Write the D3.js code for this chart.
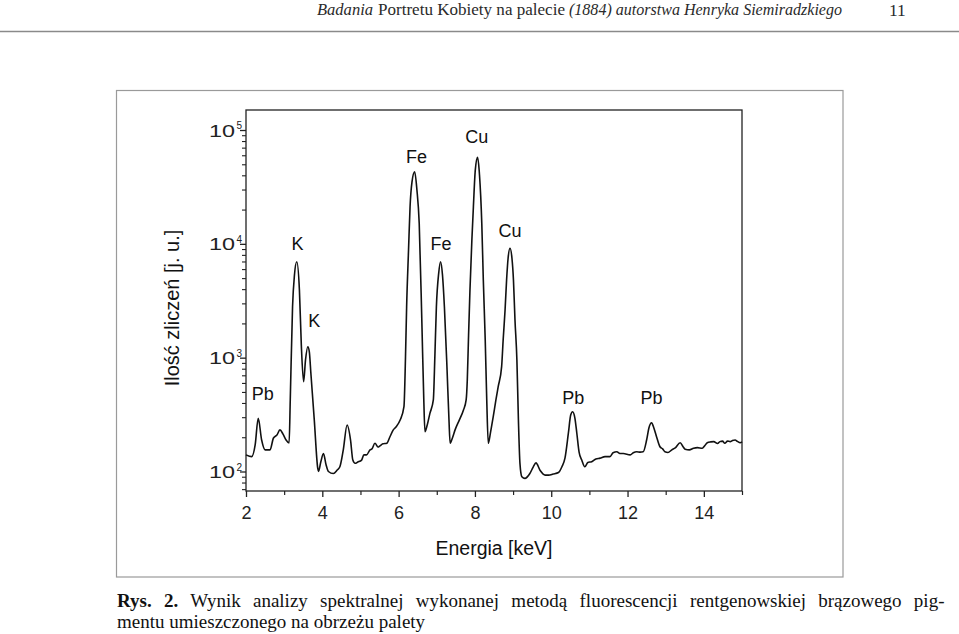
<!DOCTYPE html>
<html><head><meta charset="utf-8">
<script src="https://cdn.jsdelivr.net/npm/d3@7"></script>
<style>body{margin:0;background:#fff}svg{display:block}</style>
</head><body>
<svg id="c" width="959" height="634"></svg>
<script>
// Spectrum: [energy keV, counts]
const spectrum = [
[2.00,140],[2.15,135],[2.24,171],[2.32,293],[2.41,189],[2.50,155],[2.63,155],[2.72,197],[2.81,209],[2.89,232],
[2.97,213],[3.05,189],[3.13,178],[3.16,425],[3.22,2800],[3.27,5320],[3.33,6970],[3.40,3930],[3.45,1291],[3.51,615],
[3.56,955],[3.62,1248],[3.66,1122],[3.70,733],[3.79,283],[3.88,107],[3.90,100],[3.96,121],[4.03,144],[4.10,114],
[4.16,100],[4.29,96],[4.39,103],[4.46,110],[4.55,155],[4.65,256],[4.74,189],[4.80,126],[4.86,118],[4.93,121],
[5.03,126],[5.09,140],[5.16,140],[5.25,155],[5.30,158],[5.38,177],[5.46,164],[5.51,168],[5.59,175],[5.69,177],
[5.77,201],[5.86,232],[5.93,246],[6.04,283],[6.14,371],[6.18,1000],[6.21,2800],[6.26,8830],[6.30,21200],[6.35,34900],
[6.42,43000],[6.48,29700],[6.54,15100],[6.61,2005],[6.66,425],[6.69,224],[6.75,256],[6.82,324],[6.91,425],[6.95,1021],
[6.99,2800],[7.05,5510],[7.10,6970],[7.15,5320],[7.20,2800],[7.27,779],[7.32,283],[7.35,177],[7.41,197],[7.48,232],
[7.59,283],[7.70,347],[7.77,425],[7.80,637],[7.83,1430],[7.87,3930],[7.92,10800],[7.96,21200],[8.01,44600],[8.07,57500],
[8.12,40300],[8.18,15100],[8.22,4810],[8.27,1430],[8.31,425],[8.35,177],[8.41,222],[8.48,303],[8.55,425],[8.61,556],
[8.70,834],[8.74,1430],[8.79,2620],[8.83,4810],[8.87,7510],[8.92,9140],[8.97,7510],[9.01,4810],[9.05,2145],[9.10,955],
[9.14,283],[9.18,118],[9.23,90],[9.31,87],[9.44,96],[9.53,110],[9.60,119],[9.71,102],[9.84,93],[9.93,93],
[10.05,95],[10.19,98],[10.28,110],[10.36,131],[10.45,218],[10.51,313],[10.56,335],[10.62,295],[10.67,218],[10.73,148],
[10.80,126],[10.88,110],[10.96,120],[11.06,122],[11.17,129],[11.28,131],[11.41,135],[11.54,135],[11.62,146],[11.72,149],
[11.80,144],[11.89,144],[12.07,140],[12.15,146],[12.24,149],[12.33,148],[12.41,149],[12.50,189],[12.56,241],[12.63,268],
[12.69,241],[12.76,202],[12.85,165],[12.92,158],[12.98,149],[13.06,147],[13.16,155],[13.25,161],[13.38,179],[13.46,164],
[13.51,157],[13.62,155],[13.73,160],[13.83,162],[13.96,160],[14.02,168],[14.09,179],[14.18,182],[14.26,183],[14.36,176],
[14.42,183],[14.49,185],[14.55,177],[14.62,185],[14.69,183],[14.75,187],[14.82,189],[14.88,184],[14.95,179],[15.00,182]
];
// Peak labels
const peakNames  = ["Pb","K","K","Fe","Fe","Cu","Cu","Pb","Pb"];
const peakEnergy = [2.44,3.35,3.79,6.47,7.11,8.05,8.92,10.58,12.63];
const peakLabelCount = [425,8830,1849,51600,8830,76400,11560,392,392];
// Axes ticks
const xMajorTicks = [2,4,6,8,10,12,14];
const xMinorTicks = [3,5,7,9,11,13,15];
const yMajorExp = [2,3,4,5];
const yMinorTicks = [70,80,90,200,300,400,500,600,700,800,900,2000,3000,4000,5000,6000,7000,8000,9000,20000,30000,40000,50000,60000,70000,80000,90000];

const svg = d3.select("#c");
const sans = "'Liberation Sans', Arial, sans-serif";
const serif = "'Liberation Serif', 'Times New Roman', serif";

const hdrRuns = [
  {t:"Badania", x:317, w:56, it:true},
  {t:"Portretu Kobiety na palecie", x:378, w:187, it:false},
  {t:"(1884) autorstwa Henryka Siemiradzkiego", x:569, w:273, it:true}
];
hdrRuns.forEach(r=>{
  svg.append("text").attr("x",r.x).attr("y",15).attr("font-family",serif).attr("font-size",16)
    .attr("font-style",r.it?"italic":"normal").attr("fill","#2a2a2a")
    .attr("textLength",r.w).attr("lengthAdjust","spacingAndGlyphs").text(r.t);
});
svg.append("text").attr("x",889).attr("y",15.5).attr("font-family",serif).attr("font-size",17.5)
  .attr("fill","#2a2a2a").text("11");
svg.append("line").attr("x1",0).attr("x2",959).attr("y1",31.5).attr("y2",31.5)
  .attr("stroke","#8a8a8a").attr("stroke-width",1.5);

svg.append("rect").attr("x",116.5).attr("y",90.5).attr("width",726.5).attr("height",486.5)
  .attr("fill","none").attr("stroke","#9a9a9a").attr("stroke-width",1.2);

const L=246, R=742, T=110, B=491;
const x = d3.scaleLinear().domain([2,15]).range([L,R]);
const y = d3.scaleLog().domain([Math.pow(10,1.8287), Math.pow(10,5.1758)]).range([B,T]);

const g = svg.append("g");
const xAx = g.append("g").attr("transform",`translate(0,${B})`)
  .call(d3.axisBottom(x).tickValues(xMajorTicks).tickSize(6).tickSizeOuter(0).tickPadding(9).tickFormat(d3.format("d")));
xAx.select(".domain").remove();
xAx.selectAll("line").attr("stroke","#222").attr("stroke-width",1.3);
xAx.selectAll("text").attr("font-family",sans).attr("font-size",18).attr("fill","#222");
const xAxm = g.append("g").attr("transform",`translate(0,${B})`)
  .call(d3.axisBottom(x).tickValues(xMinorTicks).tickSize(4).tickSizeOuter(0).tickFormat(""));
xAxm.select(".domain").remove();
xAxm.selectAll("line").attr("stroke","#222").attr("stroke-width",1.2);

const yAx = g.append("g").attr("transform",`translate(${L},0)`)
  .call(d3.axisLeft(y).tickValues(yMajorExp.map(e=>Math.pow(10,e))).tickSize(6).tickSizeOuter(0).tickFormat(""));
yAx.select(".domain").remove();
yAx.selectAll("line").attr("stroke","#222").attr("stroke-width",1.3);
const yAxm = g.append("g").attr("transform",`translate(${L},0)`)
  .call(d3.axisLeft(y).tickValues(yMinorTicks).tickSize(4).tickSizeOuter(0).tickFormat(""));
yAxm.select(".domain").remove();
yAxm.selectAll("line").attr("stroke","#222").attr("stroke-width",1.1);

yMajorExp.forEach(e=>{
  const yy = y(Math.pow(10,e));
  svg.append("text").attr("x",209).attr("y",yy+6.5).attr("font-family",sans).attr("font-size",16)
    .attr("fill","#222").attr("textLength",26).attr("lengthAdjust","spacingAndGlyphs").text("10");
  svg.append("text").attr("x",236.5).attr("y",yy-1).attr("font-family",sans).attr("font-size",10)
    .attr("fill","#222").text(String(e));
});

svg.append("rect").attr("x",L).attr("y",T).attr("width",R-L).attr("height",B-T)
  .attr("fill","none").attr("stroke","#222").attr("stroke-width",1.3);

const line = d3.line().x(d=>x(d[0])).y(d=>y(d[1])).curve(d3.curveMonotoneX);
svg.append("path").datum(spectrum).attr("d",line).attr("fill","none")
  .attr("stroke","#111").attr("stroke-width",1.6).attr("stroke-linejoin","round");

peakNames.forEach((n,i)=>{
  svg.append("text").attr("x",x(peakEnergy[i])).attr("y",y(peakLabelCount[i]))
    .attr("text-anchor","middle").attr("font-family",sans).attr("font-size",18).attr("fill","#111").text(n);
});

svg.append("text").attr("x",494).attr("y",555).attr("text-anchor","middle")
  .attr("font-family",sans).attr("font-size",19.5).attr("fill","#111").text("Energia [keV]");
svg.append("text").attr("transform","translate(179,308) rotate(-90)").attr("text-anchor","middle")
  .attr("font-family",sans).attr("font-size",20).attr("fill","#111").text("Ilość zliczeń [j. u.]");

// caption: justified first line (ends with hyphen), natural last line
const capSize = 19;
const c1 = svg.append("text").attr("x",117).attr("y",607).attr("font-family",serif).attr("font-size",capSize)
  .attr("fill","#111");
c1.append("tspan").attr("font-weight","bold").text("Rys. 2.");
c1.append("tspan").text(" Wynik analizy spektralnej wykonanej metodą fluorescencji rentgenowskiej brązowego pig-");
const natural = c1.node().getComputedTextLength();
c1.attr("word-spacing", Math.max(0,(952-117-natural)/11));
svg.append("text").attr("x",117).attr("y",628).attr("font-family",serif).attr("font-size",capSize)
  .attr("fill","#111").text("mentu umieszczonego na obrzeżu palety");
</script>
</body></html>
